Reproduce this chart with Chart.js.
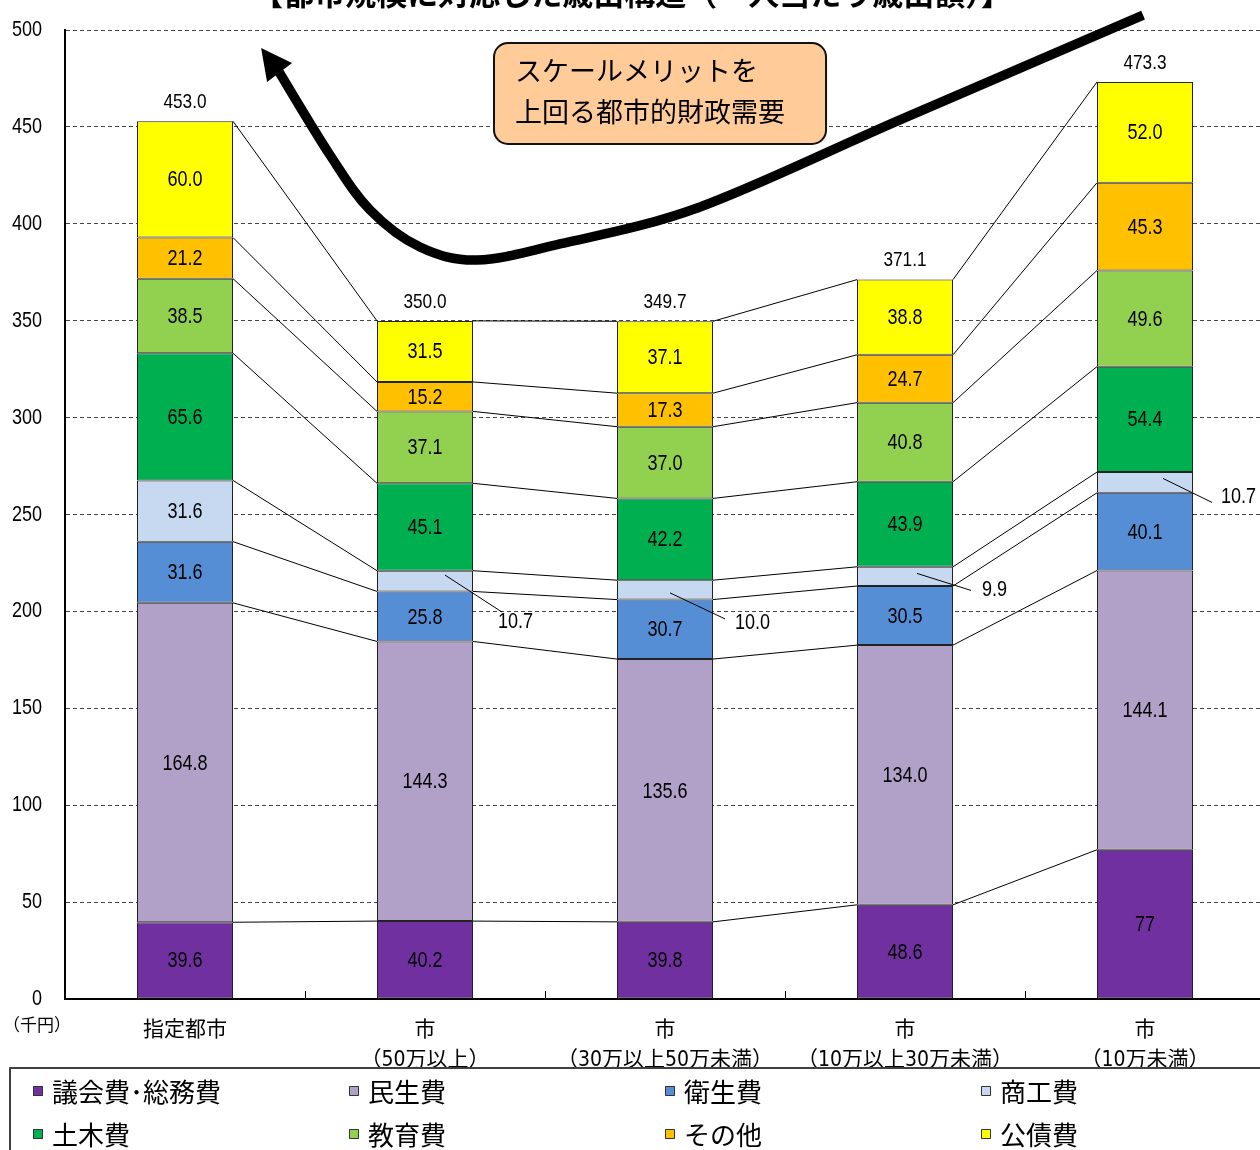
<!DOCTYPE html>
<html lang="ja">
<head>
<meta charset="UTF-8"/>
<title>都市規模に対応した歳出構造</title>
<script src="https://cdn.jsdelivr.net/npm/chart.js@4.4.1/dist/chart.umd.min.js"></script>
<style>
  html, body { margin: 0; padding: 0; background: #fff; overflow: hidden; }
  #wrap { position: relative; width: 1265px; height: 1150px; }
</style>
</head>
<body>
<div id="wrap"><canvas id="chart"></canvas></div>
<script>
  // --- data ---
  const categories = [
    ['指定都市'],
    ['市', '（50万以上）'],
    ['市', '（30万以上50万未満）'],
    ['市', '（10万以上30万未満）'],
    ['市', '（10万未満）']
  ];
  const seriesNames = ['議会費･総務費', '民生費', '衛生費', '商工費', '土木費', '教育費', 'その他', '公債費'];
  const gikaiSomu = [39.6, 40.2, 39.8, 48.6, 77];
  const minsei    = [164.8, 144.3, 135.6, 134.0, 144.1];
  const eisei     = [31.6, 25.8, 30.7, 30.5, 40.1];
  const shoko     = [31.6, 10.7, 10.0, 9.9, 10.7];
  const doboku    = [65.6, 45.1, 42.2, 43.9, 54.4];
  const kyoiku    = [38.5, 37.1, 37.0, 40.8, 49.6];
  const sonota    = [21.2, 15.2, 17.3, 24.7, 45.3];
  const kosai     = [60.0, 31.5, 37.1, 38.8, 52.0];
  const totals    = [453.0, 350.0, 349.7, 371.1, 473.3];
  const yTicks    = [0, 50, 100, 150, 200, 250, 300, 350, 400, 450, 500];

  const seriesValues = [gikaiSomu, minsei, eisei, shoko, doboku, kyoiku, sonota, kosai];
  const seriesColors = ['#7030A0', '#B1A0C7', '#558ED5', '#C6D9F1', '#00B050', '#92D050', '#FFC000', '#FFFF00'];

  // labels shown without decimals ([dataset, index])
  const plainLabels = [[0, 4]];
  // 商工費 labels placed outside with leader lines: bar index -> offsets from segment centre
  const calloutSeries = 3;
  const callouts = {
    1: { sx: 20, sy: -6, ex: 77, ey: 31, lx: 73, ly: 41 },
    2: { sx: 5, sy: 3, ex: 60, ey: 29, lx: 70, ly: 33 },
    3: { sx: 12, sy: -3, ex: 66, ey: 14, lx: 77, ly: 14 },
    4: { sx: 18, sy: -4, ex: 67, ey: 20, lx: 76, ly: 15 }
  };

  const title = '【都市規模に対応した歳出構造（一人当たり歳出額）】';
  const noteLines = ['スケールメリットを', '上回る都市的財政需要'];
  const unitLabel = '（千円）';

  const NUM = '"Liberation Sans", Arial, sans-serif';
  const FONT = '"Liberation Sans Narrow", "DejaVu Sans Condensed", "Noto Sans CJK JP", sans-serif';
  const JP = '"Noto Sans CJK JP", sans-serif';

  // annotation geometry in axis units (x: category index, y: value)
  const noteBox = { x1: 1.2875, x2: 2.671, y1: 493.3, y2: 441.2 };
  const arrowPath = [
    [3.992, 507.7], [2.979, 453.6], [2.146, 408.7], [1.5625, 389.6], [1.217, 381.3],
    [0.979, 388.0], [0.771, 407.1], [0.604, 435.5], [0.392, 478.3]
  ];
  const arrowHead = [[0.317, 490.7], [0.446, 483.0], [0.342, 473.2]];

  const fmt = (d, i, v) => plainLabels.some(p => p[0] === d && p[1] === i) ? String(Math.round(v)) : v.toFixed(1);

  // tall, condensed digits
  function narrowText(ctx, txt, x, y, align, size) {
    ctx.save();
    ctx.translate(x, y);
    ctx.scale(0.82, 1);
    ctx.font = size + 'px ' + NUM;
    ctx.textAlign = align;
    ctx.textBaseline = 'middle';
    ctx.fillText(txt, 0, 0);
    ctx.restore();
  }

  function smoothPath(ctx, pts) {
    ctx.moveTo(pts[0].x, pts[0].y);
    for (let i = 0; i < pts.length - 1; i++) {
      const p0 = pts[i - 1] || pts[i], p1 = pts[i], p2 = pts[i + 1], p3 = pts[i + 2] || p2;
      ctx.bezierCurveTo(
        p1.x + (p2.x - p0.x) / 6, p1.y + (p2.y - p0.y) / 6,
        p2.x - (p3.x - p1.x) / 6, p2.y - (p3.y - p1.y) / 6,
        p2.x, p2.y);
    }
  }

  const extras = {
    id: 'extras',
    beforeDatasetsDraw(chart) {
      const ctx = chart.ctx;
      const xs = chart.scales.x, ys = chart.scales.y;
      ctx.save();
      // category tick marks
      ctx.strokeStyle = '#000';
      ctx.lineWidth = 1;
      for (let i = 0; i < categories.length; i++) {
        const x = Math.round(xs.getPixelForValue(i + 0.5)) + 0.5;
        ctx.beginPath();
        ctx.moveTo(x, ys.bottom);
        ctx.lineTo(x, ys.bottom - 8);
        ctx.stroke();
      }
      // y tick labels
      ctx.fillStyle = '#000';
      yTicks.forEach(v => narrowText(ctx, String(v), ys.left + 42, ys.getPixelForValue(v), 'right', 22));
      ctx.restore();
    },
    afterDatasetsDraw(chart) {
      const ctx = chart.ctx;
      ctx.save();
      // series lines
      ctx.strokeStyle = '#000';
      ctx.lineWidth = 1;
      chart.data.datasets.forEach((ds, d) => {
        const els = chart.getDatasetMeta(d).data;
        for (let i = 0; i < els.length - 1; i++) {
          const a = els[i], b = els[i + 1];
          ctx.beginPath();
          ctx.moveTo(a.x + a.width / 2, a.y);
          ctx.lineTo(b.x - b.width / 2, b.y);
          ctx.stroke();
        }
      });
      // segment labels
      ctx.fillStyle = '#000';
      chart.data.datasets.forEach((ds, d) => {
        const els = chart.getDatasetMeta(d).data;
        els.forEach((el, i) => {
          const cy = (el.y + el.base) / 2;
          const txt = fmt(d, i, ds.data[i]);
          const c = d === calloutSeries ? callouts[i] : null;
          if (c) {
            ctx.beginPath();
            ctx.moveTo(el.x + c.sx, cy + c.sy);
            ctx.lineTo(el.x + c.ex, cy + c.ey);
            ctx.stroke();
            narrowText(ctx, txt, el.x + c.lx, cy + c.ly, 'left', 22);
          } else {
            narrowText(ctx, txt, el.x, cy + 1, 'center', 22);
          }
        });
      });
      // totals
      const top = chart.getDatasetMeta(chart.data.datasets.length - 1).data;
      top.forEach((el, i) => narrowText(ctx, totals[i].toFixed(1), el.x, el.y - 19, 'center', 21));
      ctx.restore();
    },
    afterDraw(chart) {
      const ctx = chart.ctx;
      const xs = chart.scales.x, ys = chart.scales.y;
      const P = p => ({ x: xs.getPixelForValue(p[0]), y: ys.getPixelForValue(p[1]) });
      ctx.save();

      // title (cut at the top edge)
      ctx.fillStyle = '#000';
      ctx.font = 'bold 31px ' + JP;
      ctx.textAlign = 'center';
      ctx.textBaseline = 'alphabetic';
      ctx.fillText(title, 632, 5);

      // unit label
      ctx.font = '17px ' + JP;
      ctx.textBaseline = 'middle';
      ctx.fillText(unitLabel, 37, ys.bottom + 26);

      // note box
      const b1 = P([noteBox.x1, noteBox.y1]), b2 = P([noteBox.x2, noteBox.y2]);
      ctx.beginPath();
      ctx.roundRect(b1.x, b1.y, b2.x - b1.x, b2.y - b1.y, 14);
      ctx.fillStyle = '#FFCC99';
      ctx.fill();
      ctx.lineWidth = 2;
      ctx.strokeStyle = '#111';
      ctx.stroke();
      ctx.fillStyle = '#000';
      ctx.font = '27px ' + JP;
      ctx.textAlign = 'left';
      noteLines.forEach((t, k) => ctx.fillText(t, b1.x + 21, b1.y + 28 + k * 41));

      // curved arrow
      ctx.beginPath();
      smoothPath(ctx, arrowPath.map(P));
      ctx.lineWidth = 9.5;
      ctx.lineCap = 'butt';
      ctx.lineJoin = 'round';
      ctx.strokeStyle = '#000';
      ctx.stroke();
      const h = arrowHead.map(P);
      ctx.beginPath();
      ctx.moveTo(h[0].x, h[0].y);
      ctx.lineTo(h[1].x, h[1].y);
      ctx.lineTo(h[2].x, h[2].y);
      ctx.closePath();
      ctx.fillStyle = '#000';
      ctx.fill();

      // legend
      ctx.strokeStyle = '#404040';
      ctx.lineWidth = 2;
      ctx.strokeRect(10, 1068, 1300, 120);
      ctx.font = '26px ' + JP;
      ctx.textBaseline = 'middle';
      ctx.textAlign = 'left';
      seriesNames.forEach((name, k) => {
        const col = k % 4, row = Math.floor(k / 4);
        const x = 33 + col * 316, y = 1091 + row * 43;
        ctx.fillStyle = seriesColors[k];
        ctx.fillRect(x, y - 5, 10, 10);
        ctx.lineWidth = 1;
        ctx.strokeStyle = '#333';
        ctx.strokeRect(x + 0.5, y - 4.5, 9, 9);
        ctx.fillStyle = '#000';
        ctx.fillText(name, x + 19, y + 1);
      });
      ctx.restore();
    }
  };

  new Chart(document.getElementById('chart'), {
    type: 'bar',
    data: {
      labels: categories,
      datasets: seriesNames.map((name, k) => ({
        label: name,
        data: seriesValues[k],
        backgroundColor: seriesColors[k],
        borderColor: '#222',
        borderWidth: 1,
        borderSkipped: false,
        barPercentage: 0.4,
        categoryPercentage: 1
      }))
    },
    options: {
      responsive: true,
      maintainAspectRatio: false,
      animation: false,
      layout: { padding: { top: 30, left: 0, right: 0, bottom: 0 } },
      plugins: { legend: { display: false }, tooltip: { enabled: false }, title: { display: false } },
      scales: {
        x: {
          stacked: true,
          afterFit: s => { s.height = 151; },
          grid: { display: false },
          border: { display: true, color: '#000', width: 2 },
          ticks: {
            color: '#000',
            padding: 9,
            maxRotation: 0,
            autoSkip: false,
            font: { family: FONT, size: 21, lineHeight: 1.4 }
          }
        },
        y: {
          stacked: true,
          min: 0,
          max: 500,
          afterFit: s => { s.width = 65; },
          afterBuildTicks: s => { s.ticks = yTicks.map(v => ({ value: v })); },
          grid: { color: '#444', lineWidth: 1, drawTicks: false },
          border: { display: true, color: '#000', width: 2, dash: [4, 3] },
          ticks: { display: false }
        }
      }
    },
    plugins: [extras]
  });
</script>
</body>
</html>
